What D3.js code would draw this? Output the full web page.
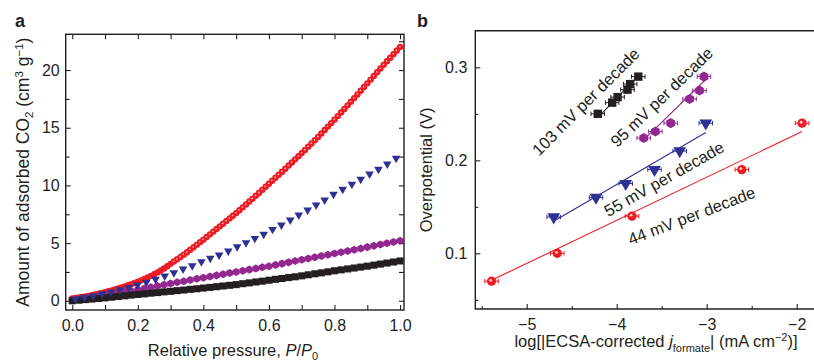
<!DOCTYPE html>
<html>
<head>
<meta charset="utf-8">
<script src="https://cdn.jsdelivr.net/npm/d3@7"></script>
<style>
  body { margin: 0; background: #fff; }
  svg { display: block; font-family: "Liberation Sans", Arial, Helvetica, sans-serif; }
</style>
</head>
<body>
<svg id="chart" width="814" height="361"></svg>
<script>
// ---------- panel a : CO2 adsorption isotherms ----------
// relative pressure grids
const pFine = [0,0.01,0.02,0.03,0.04,0.05,0.06,0.07,0.08,0.09,0.1,0.11,0.12,0.13,0.14,0.15,0.16,0.17,0.18,0.19,
  0.2,0.21,0.22,0.23,0.24,0.25,0.26,0.27,0.28,0.29,0.3,0.31,0.32,0.33,0.34,0.35,0.36,0.37,0.38,0.39,
  0.4,0.41,0.42,0.43,0.44,0.45,0.46,0.47,0.48,0.49,0.5,0.51,0.52,0.53,0.54,0.55,0.56,0.57,0.58,0.59,
  0.6,0.61,0.62,0.63,0.64,0.65,0.66,0.67,0.68,0.69,0.7,0.71,0.72,0.73,0.74,0.75,0.76,0.77,0.78,0.79,
  0.8,0.81,0.82,0.83,0.84,0.85,0.86,0.87,0.88,0.89,0.9,0.91,0.92,0.93,0.94,0.95,0.96,0.97,0.98,0.99,1];
const pCoarse = [0,0.02,0.04,0.06,0.08,0.1,0.12,0.14,0.16,0.18,0.2,0.22,0.24,0.26,0.28,0.3,0.32,0.34,0.36,0.38,
  0.4,0.42,0.44,0.46,0.48,0.5,0.52,0.54,0.56,0.58,0.6,0.62,0.64,0.66,0.68,0.7,0.72,0.74,0.76,0.78,
  0.8,0.82,0.84,0.86,0.88,0.9,0.92,0.94,0.96,0.98,1];

// adsorbed CO2 (cm3 g-1)
const redQ = [0.2,0.24,0.28,0.33,0.37,0.42,0.48,0.54,0.61,0.68,0.75,0.82,0.9,0.98,1.06,1.15,1.24,1.34,1.44,1.54,
  1.65,1.77,1.89,2.02,2.16,2.3,2.46,2.62,2.8,2.99,3.2,3.4,3.6,3.8,4,4.2,4.42,4.64,4.86,5.08,
  5.3,5.53,5.76,5.99,6.22,6.45,6.68,6.91,7.14,7.37,7.6,7.85,8.1,8.35,8.6,8.85,9.11,9.37,9.63,9.89,
  10.15,10.41,10.67,10.93,11.19,11.45,11.72,11.99,12.26,12.53,12.8,13.08,13.36,13.64,13.92,14.2,14.5,14.8,15.1,15.4,
  15.7,16.01,16.32,16.63,16.94,17.25,17.57,17.89,18.21,18.53,18.85,19.17,19.49,19.81,20.13,20.45,20.76,21.07,21.38,21.69,22];
const purpleQ = [0.05,0.13,0.21,0.29,0.37,0.45,0.55,0.65,0.75,0.85,0.95,1.06,1.17,1.28,1.39,1.5,1.6,1.7,1.8,1.9,
  2,2.1,2.2,2.3,2.4,2.5,2.6,2.7,2.8,2.9,3,3.11,3.22,3.33,3.44,3.55,3.66,3.77,3.88,3.99,
  4.1,4.21,4.32,4.43,4.54,4.65,4.76,4.87,4.98,5.09,5.2];
const blackQ = [0,0.05,0.1,0.15,0.2,0.25,0.31,0.37,0.43,0.49,0.55,0.6,0.66,0.71,0.77,0.82,0.88,0.93,0.99,1.04,
  1.1,1.16,1.22,1.28,1.34,1.4,1.48,1.55,1.63,1.7,1.78,1.86,1.93,2.01,2.08,2.16,2.25,2.34,2.42,2.51,
  2.6,2.68,2.76,2.84,2.92,3,3.09,3.18,3.27,3.36,3.45];
const blueP = [0.01,0.037,0.064,0.091,0.118,0.145,0.172,0.199,0.226,0.254,0.282,0.31,0.338,0.366,0.394,0.421,0.448,0.476,0.503,
  0.53,0.557,0.584,0.611,0.638,0.665,0.691,0.718,0.744,0.77,0.797,0.825,0.853,0.88,0.907,0.934,0.961,0.988];
const blueQ = [0.15,0.3,0.44,0.6,0.76,0.95,1.15,1.36,1.6,1.86,2.14,2.43,2.75,3.04,3.38,3.68,3.96,4.31,4.68,
  5.03,5.41,5.76,6.19,6.57,7,7.43,7.87,8.3,8.73,9.23,9.66,10.1,10.53,10.99,11.4,11.86,12.35];

const xTicksA = [0, 0.2, 0.4, 0.6, 0.8, 1.0];
const yTicksA = [0, 5, 10, 15, 20];

// ---------- panel b : Tafel plots ----------
const redLogJ = [-5.39, -4.66, -3.83, -2.61, -1.94];
const redEta = [0.070, 0.100, 0.140, 0.190, 0.240];
const blueLogJ = [-4.70, -4.23, -3.90, -3.58, -3.30, -3.01];
const blueEta = [0.139, 0.160, 0.175, 0.190, 0.210, 0.240];
const purpleLogJ = [-3.70, -3.57, -3.40, -3.19, -3.08, -3.03];
const purpleEta = [0.224, 0.231, 0.240, 0.266, 0.275, 0.290];
const blackLogJ = [-4.21, -4.05, -3.99, -3.88, -3.85, -3.76];
const blackEta = [0.250, 0.262, 0.268, 0.276, 0.282, 0.290];
const logJErr = 0.075;

// fitted Tafel lines (end points)
const redFitX = [-5.39, -1.94], redFitY = [0.071, 0.231];
const blueFitX = [-4.69, -3.01], blueFitY = [0.135, 0.230];
const purpleFitX = [-3.70, -3.00], purpleFitY = [0.222, 0.288];
const blackFitX = [-4.21, -3.78], blackFitY = [0.246, 0.289];

const slopeLabels = ['103 mV per decade', '95 mV per decade', '55 mV per decade', '44 mV per decade'];
const xTicksB = [-5, -4, -3, -2];
const yTicksB = [0.1, 0.2, 0.3];

// ---------- drawing ----------
const ink = '#231f20';
const red = '#ed1c24', blue = '#2e3192', purple = '#92278f', black = '#231f20';
const svg = d3.select('#chart');

// hexagon marker for d3.symbol
const symbolHex = {
  draw(ctx, size) {
    const r = Math.sqrt(size / (1.5 * Math.sqrt(3)));
    for (let i = 0; i < 6; i++) {
      const a = Math.PI / 3 * i + Math.PI / 6;
      if (i === 0) ctx.moveTo(r * Math.cos(a), r * Math.sin(a));
      else ctx.lineTo(r * Math.cos(a), r * Math.sin(a));
    }
    ctx.closePath();
  }
};

function styleAxis(sel) {
  sel.attr('font-size', 16).attr('font-family', null).attr('color', ink);
  sel.select('.domain').remove();
  sel.selectAll('line').attr('stroke-width', 1.1);
}

function markers(g, xs, ys, sx, sy, type, size, color, rot) {
  g.append('g').selectAll('path')
    .data(d3.zip(xs, ys))
    .join('path')
    .attr('d', d3.symbol().type(type).size(size))
    .attr('transform', d => `translate(${sx(d[0])},${sy(d[1])})` + (rot ? ' rotate(180)' : ''))
    .attr('fill', color);
}

// ----- panel a
const xA = d3.scaleLinear().domain([-0.02, 1.012]).range([65.7, 404]);
const yA = d3.scaleLinear().domain([-0.8, 23.1]).range([310, 34.3]);
const gA = svg.append('g');

gA.append('g').attr('transform', `translate(0,${yA.range()[0]})`)
  .call(d3.axisBottom(xA).tickValues(xTicksA).tickFormat(d3.format('.1f')).tickSizeInner(-5).tickSizeOuter(0).tickPadding(9.5))
  .call(styleAxis);
gA.append('g').attr('transform', `translate(0,${yA.range()[0]})`)
  .call(d3.axisBottom(xA).tickValues(xTicksA.slice(0, -1).map(d => d + 0.1)).tickFormat('').tickSizeInner(-5).tickSizeOuter(0))
  .call(styleAxis);
gA.append('g').attr('transform', `translate(0,${yA.range()[1]})`)
  .call(d3.axisTop(xA).ticks(10).tickFormat('').tickSizeInner(-5).tickSizeOuter(0))
  .call(styleAxis);
gA.append('g').attr('transform', `translate(${xA.range()[0]},0)`)
  .call(d3.axisLeft(yA).tickValues(yTicksA).tickSizeInner(-5).tickSizeOuter(0).tickPadding(6))
  .call(styleAxis);
gA.append('g').attr('transform', `translate(${xA.range()[0]},0)`)
  .call(d3.axisLeft(yA).tickValues(yTicksA.slice(0, -1).map(d => d + 2.5)).tickFormat('').tickSizeInner(-4).tickSizeOuter(0))
  .call(styleAxis);
gA.append('g').attr('transform', `translate(${xA.range()[1]},0)`)
  .call(d3.axisRight(yA).tickValues(d3.range(0, 22.6, 2.5)).tickFormat('').tickSizeInner(-5).tickSizeOuter(0))
  .call(styleAxis);

// isotherm markers
gA.append('g').selectAll('circle')
  .data(d3.zip(pFine, redQ))
  .join('circle')
  .attr('cx', d => xA(d[0])).attr('cy', d => yA(d[1])).attr('r', 3.2)
  .attr('fill', red);
gA.append('g').selectAll('circle')
  .data(d3.zip(pFine, redQ).filter(d => d[0] > 0.3))
  .join('circle')
  .attr('cx', d => xA(d[0]) - 0.3).attr('cy', d => yA(d[1]) - 0.3).attr('r', 0.8)
  .attr('fill', '#fff').attr('opacity', 0.8);
markers(gA, pCoarse, purpleQ, xA, yA, symbolHex, 42, purple);
markers(gA, pCoarse, blackQ, xA, yA, d3.symbolSquare, 50, black);
markers(gA, blueP, blueQ, xA, yA, d3.symbolTriangle, 32, blue, true);

gA.append('rect')
  .attr('x', xA.range()[0]).attr('y', yA.range()[1])
  .attr('width', xA.range()[1] - xA.range()[0]).attr('height', yA.range()[0] - yA.range()[1])
  .attr('fill', 'none').attr('stroke', ink).attr('stroke-width', 1.4);

// titles a
const tA = gA.append('text').attr('x', 233).attr('y', 356).attr('text-anchor', 'middle')
  .attr('font-size', 16.5).attr('fill', ink);
tA.append('tspan').text('Relative pressure, ');
tA.append('tspan').attr('font-style', 'italic').text('P');
tA.append('tspan').text('/');
tA.append('tspan').attr('font-style', 'italic').text('P');
tA.append('tspan').attr('font-size', 11).attr('dy', 4).text('0');

const yTitleA = gA.append('text').attr('transform', `translate(29,${(yA.range()[0] + yA.range()[1]) / 2}) rotate(-90)`)
  .attr('text-anchor', 'middle').attr('font-size', 17.5).attr('fill', ink);
yTitleA.append('tspan').text('Amount of adsorbed CO');
yTitleA.append('tspan').attr('font-size', 11.5).attr('dy', 4).text('2');
yTitleA.append('tspan').attr('dy', -4).text(' (cm');
yTitleA.append('tspan').attr('font-size', 11.5).attr('dy', -6).text('3');
yTitleA.append('tspan').attr('dy', 6).text(' g');
yTitleA.append('tspan').attr('font-size', 11.5).attr('dy', -6).text('\u22121');
yTitleA.append('tspan').attr('dy', 6).text(')');

svg.append('text').attr('x', 15).attr('y', 27).attr('font-size', 18).attr('font-weight', 'bold').attr('fill', ink).text('a');

// ----- panel b
const xB = d3.scaleLinear().domain([-5.571, -1.741]).range([475.3, 820]);
const yB = d3.scaleLinear().domain([0.0401, 0.3394]).range([309, 30.7]);
const gB = svg.append('g');

gB.append('g').attr('transform', `translate(0,${yB.range()[0]})`)
  .call(d3.axisBottom(xB).tickValues(xTicksB).tickFormat(d3.format('d')).tickSizeInner(-5).tickSizeOuter(0).tickPadding(10))
  .call(styleAxis);
gB.append('g').attr('transform', `translate(0,${yB.range()[0]})`)
  .call(d3.axisBottom(xB).tickValues(xTicksB.map(d => d - 0.5)).tickFormat('').tickSizeInner(-3).tickSizeOuter(0))
  .call(styleAxis);
gB.append('g').attr('transform', `translate(${xB.range()[0]},0)`)
  .call(d3.axisLeft(yB).tickValues(yTicksB).tickFormat(d3.format('.1f')).tickSizeInner(-5).tickSizeOuter(0).tickPadding(8))
  .call(styleAxis);
gB.append('g').attr('transform', `translate(${xB.range()[0]},0)`)
  .call(d3.axisLeft(yB).tickValues([0.05, 0.15, 0.25]).tickFormat('').tickSizeInner(-3).tickSizeOuter(0))
  .call(styleAxis);

const series = [
  { x: redLogJ, y: redEta, fx: redFitX, fy: redFitY, color: red, type: d3.symbolCircle, size: 68 },
  { x: blueLogJ, y: blueEta, fx: blueFitX, fy: blueFitY, color: blue, type: d3.symbolTriangle, size: 70, rot: true },
  { x: purpleLogJ, y: purpleEta, fx: purpleFitX, fy: purpleFitY, color: purple, type: symbolHex, size: 66 },
  { x: blackLogJ, y: blackEta, fx: blackFitX, fy: blackFitY, color: black, type: d3.symbolSquare, size: 70 }
];
const line = d3.line().x(d => xB(d[0])).y(d => yB(d[1]));

series.forEach(s => {
  gB.append('path').attr('d', line(d3.zip(s.fx, s.fy)))
    .attr('fill', 'none').attr('stroke', s.color).attr('stroke-width', 1.1);
  const eb = gB.append('g').attr('stroke', s.color).attr('stroke-width', 1);
  d3.zip(s.x, s.y).forEach(d => {
    const x0 = xB(d[0] - logJErr), x1 = xB(d[0] + logJErr), y = yB(d[1]);
    eb.append('line').attr('x1', x0).attr('x2', x1).attr('y1', y).attr('y2', y);
    eb.append('line').attr('x1', x0).attr('x2', x0).attr('y1', y - 2.2).attr('y2', y + 2.2);
    eb.append('line').attr('x1', x1).attr('x2', x1).attr('y1', y - 2.2).attr('y2', y + 2.2);
  });
  markers(gB, s.x, s.y, xB, yB, s.type, s.size, s.color, s.rot);
});
// highlight on the red spheres
gB.append('g').selectAll('circle')
  .data(d3.zip(redLogJ, redEta))
  .join('circle')
  .attr('cx', d => xB(d[0]) - 0.9).attr('cy', d => yB(d[1]) - 0.9).attr('r', 1.4)
  .attr('fill', '#fff').attr('opacity', 0.8);

// slope annotations, centred on data coordinates
const labelPos = [[-4.344, 0.263, -45], [-3.50, 0.268, -44], [-3.474, 0.180, -29.5], [-3.167, 0.1404, -21]];
gB.append('g').selectAll('text')
  .data(slopeLabels)
  .join('text')
  .attr('transform', (d, i) => `translate(${xB(labelPos[i][0])},${yB(labelPos[i][1])}) rotate(${labelPos[i][2]})`)
  .attr('text-anchor', 'middle').attr('dy', '0.35em')
  .attr('font-size', 16.5).attr('fill', ink)
  .text(d => d);

gB.append('path')
  .attr('d', `M${xB.range()[1]},${yB.range()[1]}H${xB.range()[0]}V${yB.range()[0]}H${xB.range()[1]}`)
  .attr('fill', 'none').attr('stroke', ink).attr('stroke-width', 1.4);

// titles b
const tB = gB.append('text').attr('x', 656).attr('y', 347).attr('text-anchor', 'middle')
  .attr('font-size', 16.5).attr('fill', ink);
tB.append('tspan').text('log[|ECSA-corrected ');
tB.append('tspan').attr('font-style', 'italic').text('j');
tB.append('tspan').attr('font-size', 11).attr('dy', 5).text('formate');
tB.append('tspan').attr('dy', -5).text('| (mA cm');
tB.append('tspan').attr('font-size', 11).attr('dy', -6).text('\u22122');
tB.append('tspan').attr('dy', 6).text(')]');

gB.append('text').attr('transform', `translate(432,${(yB.range()[0] + yB.range()[1]) / 2}) rotate(-90)`)
  .attr('text-anchor', 'middle').attr('font-size', 16.5).attr('fill', ink)
  .text('Overpotential (V)');

svg.append('text').attr('x', 417).attr('y', 27).attr('font-size', 18).attr('font-weight', 'bold').attr('fill', ink).text('b');
</script>
</body>
</html>
